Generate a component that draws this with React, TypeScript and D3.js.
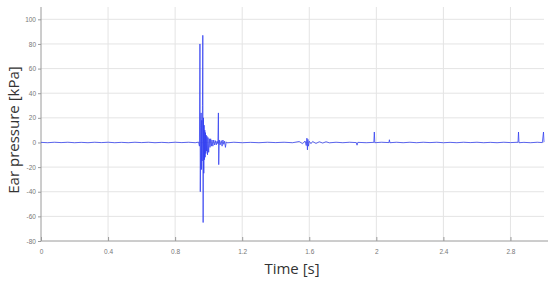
import React, { useEffect, useRef } from 'react'
import * as d3 from 'd3'

// ear pressure trace, [time s, pressure kPa]
const baseline1: [number, number][] = [
    [0, 0.1], [0.04, -0.2], [0.08, 0.2], [0.12, -0.1], [0.16, 0.2], [0.2, -0.2], [0.24, 0.1],
    [0.28, -0.2], [0.32, 0.2], [0.36, -0.1], [0.4, 0.2], [0.44, -0.2], [0.48, 0.1], [0.52, -0.2],
    [0.56, 0.2], [0.6, -0.1], [0.64, 0.2], [0.68, -0.2], [0.72, 0.1], [0.76, -0.2], [0.8, 0.2],
    [0.84, -0.1], [0.88, 0.2], [0.92, -0.2], [0.94, 0.3]
]

const burst: [number, number][] = [
    [0.945, -3], [0.948, 80], [0.95, -40], [0.953, 12], [0.955, 24], [0.957, -22], [0.959, 18],
    [0.961, -15], [0.963, 30], [0.965, 87], [0.967, -65], [0.969, 20], [0.971, -25], [0.973, 14],
    [0.975, -14], [0.977, 10], [0.979, -12], [0.981, 8], [0.983, -9], [0.985, 6], [0.987, -7],
    [0.99, 5], [0.993, -10], [0.996, 4], [1.0, -8], [1.004, 3], [1.008, -4], [1.012, 3],
    [1.016, -3], [1.02, 2], [1.025, -3], [1.03, 2], [1.035, -2], [1.04, 1.5], [1.045, -2],
    [1.05, 1], [1.055, -1], [1.058, 24], [1.06, -18], [1.063, 2], [1.068, -2], [1.075, 1.5],
    [1.08, -3], [1.085, 2], [1.09, -1.5], [1.095, 1], [1.1, -4], [1.105, 0.5], [1.11, -0.3]
]

const baseline2: [number, number][] = [
    [1.15, 0.2], [1.2, -0.2], [1.25, 0.1], [1.3, -0.2], [1.35, 0.2], [1.4, -0.1], [1.45, 0.2],
    [1.5, -0.2], [1.54, 0.8], [1.56, -1], [1.575, 1.2], [1.582, -2.5], [1.586, 3.5], [1.589, -6],
    [1.592, 2.5], [1.595, -3], [1.6, 1], [1.61, -1], [1.62, 0.8], [1.64, -0.8], [1.66, 0.6],
    [1.68, -0.5], [1.7, 0.6], [1.72, -0.3], [1.76, 0.2], [1.8, -0.2], [1.84, 0.2], [1.88, -0.1],
    [1.885, -2.2], [1.89, 0.1], [1.94, -0.2], [1.985, 0.1], [1.988, 8.5], [1.991, -0.2],
    [2.03, 0.2], [2.075, -0.1], [2.078, 2.2], [2.081, -0.2], [2.12, 0.2], [2.16, -0.2],
    [2.2, 0.2], [2.24, -0.2], [2.28, 0.2], [2.32, -0.1], [2.36, 0.2], [2.4, -0.2], [2.44, 0.1],
    [2.48, -0.2], [2.52, 0.2], [2.56, -0.1], [2.6, 0.2], [2.64, -0.2], [2.68, 0.1], [2.72, -0.2],
    [2.76, 0.2], [2.8, -0.1], [2.845, 0.2], [2.848, 8.5], [2.851, -0.2], [2.88, 0.1],
    [2.92, -0.2], [2.96, 0.2], [2.99, -0.1], [2.997, 8.5], [3.0, 0.3]
]

const xTicks = [0, 0.4, 0.8, 1.2, 1.6, 2, 2.4, 2.8]
const yTicks = [-80, -60, -40, -20, 0, 20, 40, 60, 80, 100]

const App = () => {
    const chartRef = useRef<SVGSVGElement>(null)

    useEffect(() => {
        const W = 550
        const H = 283
        const plot = { left: 41, right: 544, top: 7, bottom: 241 }

        const svg = d3.select(chartRef.current)
        svg.selectAll('*').remove()

        const xScale = d3.scaleLinear().domain([0, 3]).range([plot.left, plot.right])
        const yScale = d3.scaleLinear().domain([-80, 110]).range([plot.bottom, plot.top])

        svg.append('rect').attr('width', W).attr('height', H).attr('fill', '#fff')

        // grid
        svg.append('g')
            .selectAll('line')
            .data(xTicks.slice(1))
            .join('line')
            .attr('x1', d => xScale(d)).attr('x2', d => xScale(d))
            .attr('y1', plot.top).attr('y2', plot.bottom)
            .attr('stroke', '#e4e4e4')
            .attr('stroke-width', 1)

        svg.append('g')
            .selectAll('line')
            .data(yTicks.slice(1))
            .join('line')
            .attr('x1', plot.left).attr('x2', plot.right)
            .attr('y1', d => yScale(d)).attr('y2', d => yScale(d))
            .attr('stroke', '#e4e4e4')
            .attr('stroke-width', 1)

        // axes
        const xAxis = d3.axisBottom(xScale).tickValues(xTicks).tickSize(-4).tickPadding(8).tickFormat(d => String(+d))
        const yAxis = d3.axisLeft(yScale).tickValues(yTicks).tickSize(3).tickPadding(2).tickFormat(d => String(+d))

        const gx = svg.append('g').attr('transform', `translate(0,${plot.bottom})`).call(xAxis)
        const gy = svg.append('g').attr('transform', `translate(${plot.left},0)`).call(yAxis)

        for (const g of [gx, gy]) {
            g.select('.domain').attr('stroke', '#9a9a9a')
            g.selectAll('.tick line').attr('stroke', '#9a9a9a')
            g.selectAll('.tick text')
                .attr('fill', '#777')
                .style('font-family', 'Arial, "Liberation Sans", sans-serif')
                .style('font-size', '6.5px')
        }
        gy.select('.domain').attr('d', `M0,${plot.top}V${plot.bottom}`)
        gx.select('.domain').attr('d', `M${plot.left},0H${plot.right + 4}`)

        // trace
        const data = [...baseline1, ...burst, ...baseline2]
        const line = d3.line<[number, number]>()
            .x(d => xScale(d[0]))
            .y(d => yScale(d[1]))

        svg.append('path')
            .datum(data)
            .attr('fill', 'none')
            .attr('stroke', '#2f3cf0')
            .attr('stroke-opacity', 0.85)
            .attr('stroke-width', 0.9)
            .attr('d', line)

        // axis titles
        svg.append('text')
            .attr('transform', `translate(19,${(plot.top + plot.bottom) / 2 + 6}) rotate(-90)`)
            .style('text-anchor', 'middle')
            .style('font-family', '"Open Sans", sans-serif')
            .style('font-size', '15px')
            .attr('fill', '#333')
            .text('Ear pressure [kPa]')

        svg.append('text')
            .attr('x', 292)
            .attr('y', 274)
            .style('text-anchor', 'middle')
            .style('font-family', '"Open Sans", sans-serif')
            .style('font-size', '15px')
            .attr('fill', '#333')
            .text('Time [s]')
    }, [])

    return (
        <svg ref={chartRef} width={550} height={283} style={{ position: 'absolute', left: 0, top: 0 }} />
    )
}

export default App
